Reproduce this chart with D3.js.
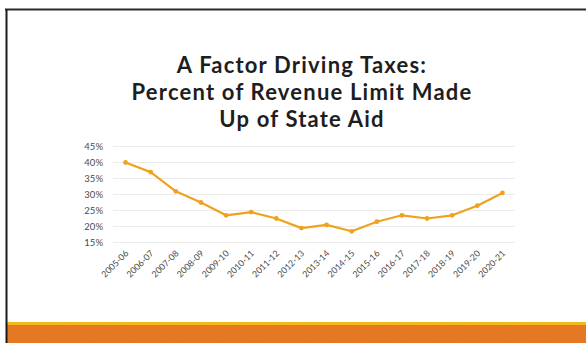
<!DOCTYPE html>
<html>
<head>
<meta charset="utf-8">
<script src="https://cdn.jsdelivr.net/npm/d3@7"></script>
<style>
  html, body { margin: 0; padding: 0; background: #fff; }
  svg { display: block; }
</style>
</head>
<body>
<svg id="chart" width="586" height="343"></svg>
<script>
// School years on the x axis
const years = ["2005-06","2006-07","2007-08","2008-09","2009-10","2010-11","2011-12","2012-13",
               "2013-14","2014-15","2015-16","2016-17","2017-18","2018-19","2019-20","2020-21"];
// Percent of revenue limit made up of state aid
const stateAidPct = [40, 37, 31, 27.5, 23.5, 24.5, 22.5, 19.5, 20.5, 18.5, 21.5, 23.5, 22.5, 23.5, 26.5, 30.5];
// Y axis tick values (percent)
const yTicks = [15, 20, 25, 30, 35, 40, 45];
// Title lines
const titleLines = ["A Factor Driving Taxes:", "Percent of Revenue Limit Made", "Up of State Aid"];

const svg = d3.select("#chart");
const W = 586, H = 343;

// slide texture for the footer band
const defs = svg.append("defs");
const noise = defs.append("filter").attr("id", "grain").attr("x", 0).attr("y", 0).attr("width", 1).attr("height", 1);
noise.append("feTurbulence").attr("type", "fractalNoise").attr("baseFrequency", 0.9).attr("numOctaves", 2).attr("seed", 3).attr("result", "n");
noise.append("feColorMatrix").attr("in", "n").attr("type", "matrix")
  .attr("values", "0 0 0 0 0.6  0 0 0 0 0.28  0 0 0 0 0.05  0 0 0 0.4 0").attr("result", "tint");
noise.append("feComposite").attr("in", "tint").attr("in2", "SourceGraphic").attr("operator", "in").attr("result", "t2");
noise.append("feMerge").selectAll("feMergeNode").data(["SourceGraphic", "t2"]).join("feMergeNode").attr("in", d => d);

// slide frame
svg.append("rect").attr("x", 0).attr("y", 0).attr("width", W).attr("height", H).attr("fill", "#fff");
svg.append("rect").attr("x", 7).attr("y", 324).attr("width", W - 7).attr("height", H - 324)
  .attr("fill", "#ea721c").attr("filter", "url(#grain)");
svg.append("rect").attr("x", 7).attr("y", 322).attr("width", W - 7).attr("height", 3).attr("fill", "#f4b81c");
svg.append("line").attr("x1", 5).attr("x2", W).attr("y1", 9.5).attr("y2", 9.5)
  .attr("stroke", "#2a2a2a").attr("stroke-width", 2);
svg.append("line").attr("x1", 6.5).attr("x2", 6.5).attr("y1", 9).attr("y2", H)
  .attr("stroke", "#1a1a1a").attr("stroke-width", 2);

// title
svg.append("g").selectAll("text").data(titleLines).join("text")
  .attr("x", 302).attr("y", (d, i) => 73 + i * 27)
  .attr("text-anchor", "middle")
  .attr("font-family", "Lato, 'Open Sans', sans-serif")
  .attr("font-weight", 700)
  .attr("font-size", 22)
  .attr("letter-spacing", 1.2)
  .attr("fill", "#1e1e1e")
  .text(d => d);

// scales
const x = d3.scalePoint().domain(years).range([113, 515]).padding(0.5);
const y = d3.scaleLinear().domain([15, 45]).range([242.5, 146.5]);

// gridlines
svg.append("g").selectAll("line").data(yTicks).join("line")
  .attr("x1", 113).attr("x2", 515)
  .attr("y1", d => y(d)).attr("y2", d => y(d))
  .attr("stroke", "#ececec").attr("stroke-width", 1);

// y axis
const yAxis = svg.append("g").attr("transform", "translate(105,0)")
  .call(d3.axisLeft(y).tickValues(yTicks).tickSize(0).tickPadding(2).tickFormat(d => d + "%"));
yAxis.select(".domain").remove();
yAxis.selectAll("text")
  .attr("font-family", "Lato, 'Open Sans', sans-serif")
  .attr("font-size", 9.5).attr("fill", "#4a4a4a");

// x axis
const xAxis = svg.append("g").attr("transform", "translate(0,248)")
  .call(d3.axisBottom(x).tickSize(0).tickPadding(0));
xAxis.select(".domain").remove();
xAxis.selectAll("text")
  .attr("font-family", "Lato, 'Open Sans', sans-serif")
  .attr("font-size", 8.8).attr("fill", "#4a4a4a")
  .attr("text-anchor", "end")
  .attr("dy", 0)
  .attr("transform", "translate(3,6) rotate(-45)");

// line + markers
const line = d3.line().x((d, i) => x(years[i])).y(d => y(d));
svg.append("path").datum(stateAidPct)
  .attr("d", line).attr("fill", "none")
  .attr("stroke", "#f0a21e").attr("stroke-width", 2.2).attr("stroke-linejoin", "round");
svg.append("g").selectAll("circle").data(stateAidPct).join("circle")
  .attr("cx", (d, i) => x(years[i])).attr("cy", d => y(d)).attr("r", 2.4)
  .attr("fill", "#f0a21e");
</script>
</body>
</html>
